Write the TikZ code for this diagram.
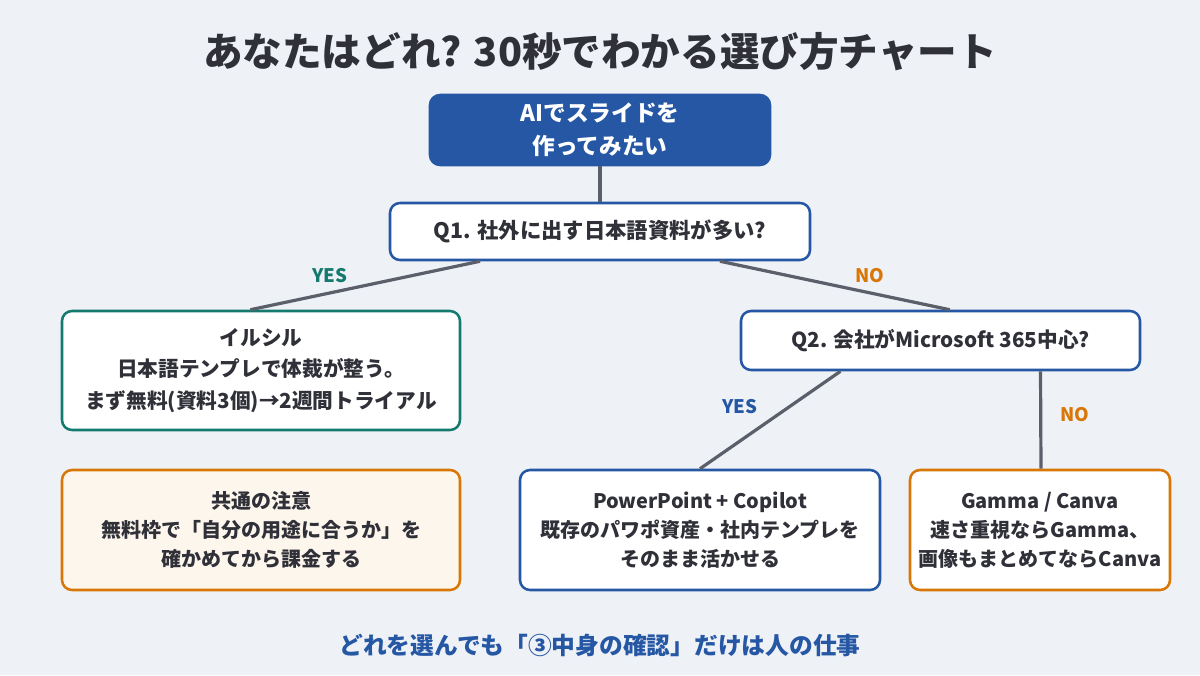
\documentclass[tikz,border=0pt]{standalone}
\usepackage{fontspec}
\setmainfont{Noto Sans CJK JP}
\usetikzlibrary{positioning, calc}
\definecolor{cbg}{HTML}{EEF1F6}
\definecolor{cblue}{HTML}{2557A4}
\definecolor{cgreen}{HTML}{147A6E}
\definecolor{corange}{HTML}{D97706}
\definecolor{ctext}{HTML}{2F3038}
\definecolor{cline}{HTML}{5B5F6A}
\definecolor{ccream}{HTML}{FDF6EC}
\tikzset{
  every picture/.style={font=\bfseries},
  box/.style={draw=#1, fill=white, line width=1.9pt, rounded corners=7.5pt, align=center, text=ctext, font=\fontsize{15.5}{23.6}\selectfont\bfseries, inner sep=0pt},
  box/.default=cblue,
  small/.style={font=\fontsize{15}{21.75}\selectfont\bfseries},
  link/.style={draw=cline, line width=2.4pt},
  answer/.style={font=\fontsize{14}{16}\selectfont\bfseries},
}
\begin{document}
\begin{tikzpicture}[x=0.75pt, y=-0.75pt]
  \fill[cbg] (0,0) rectangle (1200,675);
  \useasboundingbox (0,0) rectangle (1200,675);
  \node[text=ctext, font=\fontsize{29.7}{31}\selectfont\bfseries] (title) at (600,52) {あなたはどれ? 30秒でわかる選び方チャート};
  % start and questions
  \node[box, fill=cblue, text=white, minimum width=255pt, minimum height=52.5pt, font=\fontsize{17}{25}\selectfont\bfseries] (start) at (600,130) {AIでスライドを\\作ってみたい};
  \node[box, minimum width=315pt, minimum height=42.75pt, font=\fontsize{16}{18}\selectfont\bfseries] (q1) at (600,231.5) {Q1. 社外に出す日本語資料が多い?};
  \node[box, minimum width=299.25pt, minimum height=44.25pt] (q2) at (940.5,340.5) {Q2. 会社がMicrosoft 365中心?};
  % answers
  \node[box=cgreen, minimum width=298.5pt, minimum height=89.25pt] (ilsil) at (261,370.5) {イルシル\\日本語テンプレで体裁が整う。\\まず無料(資料3個)→2週間トライアル};
  \node[box, small, minimum width=270pt, minimum height=90pt] (ppt) at (700,530) {PowerPoint + Copilot\\既存のパワポ資産・社内テンプレを\\そのまま活かせる};
  \node[box=corange, small, minimum width=195pt, minimum height=90pt] (gamma) at (1040,530) {Gamma / Canva\\速さ重視ならGamma、\\画像もまとめてならCanva};
  \node[box=corange, small, fill=ccream, minimum width=298.5pt, minimum height=90pt] (note) at (261,530) {共通の注意\\無料枠で「自分の用途に合うか」を\\確かめてから課金する};
  % connectors
  \draw[link] (start.south) -- (q1.north);
  \draw[link] ([xshift=-90pt]q1.south) -- ([xshift=-8pt]ilsil.north);
  \draw[link] ([xshift=90pt]q1.south) -- ([xshift=7pt]q2.north);
  \draw[link] ([xshift=-75pt]q2.south) -- (ppt.north);
  \draw[link] ([xshift=75pt]q2.south) -- ([xshift=0.75pt]gamma.north);
  \node[answer, text=cgreen] (yes1) at (330,276) {YES};
  \node[answer, text=corange] (no1) at (870,276) {NO};
  \node[answer, text=cblue] (yes2) at (740,407) {YES};
  \node[answer, text=corange] (no2) at (1075,415) {NO};
  \node[text=cblue, font=\fontsize{17.8}{20}\selectfont\bfseries] (footer) at (600,645) {どれを選んでも「③中身の確認」だけは人の仕事};
\end{tikzpicture}
\end{document}
